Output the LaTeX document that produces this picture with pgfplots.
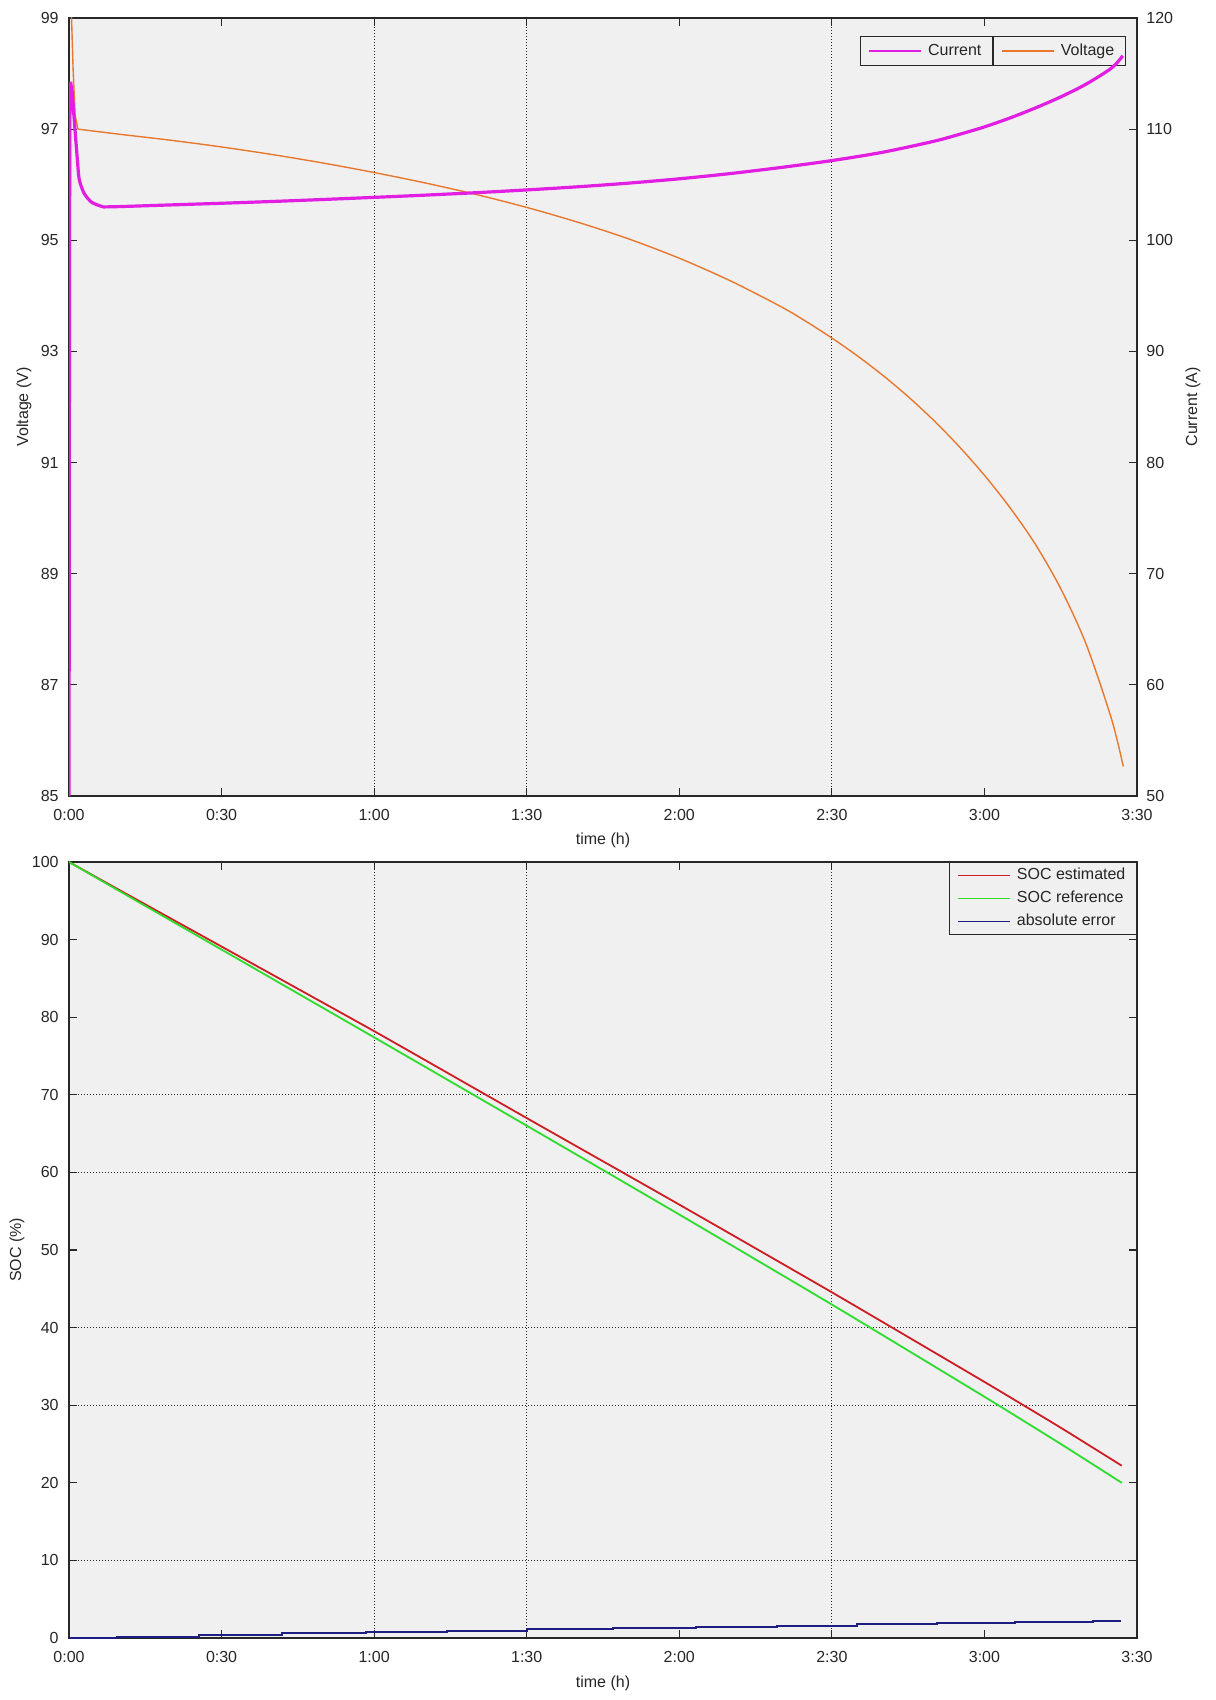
\documentclass[border=0pt]{standalone}
\usepackage{pgfplots}
\pgfplotsset{compat=1.18}
\usepackage{fontspec}
\setmainfont{Liberation Sans}
\definecolor{bg}{HTML}{F0F0F0}
\definecolor{curc}{RGB}{225,30,225}
\definecolor{volc}{RGB}{232,120,45}
\definecolor{socest}{RGB}{205,30,35}
\definecolor{socref}{RGB}{45,220,45}
\definecolor{errc}{RGB}{30,30,130}
\definecolor{axc}{RGB}{40,40,40}

\pgfplotstableread{
t V
0 99.6
0.4 99.3
0.8 98.1
1.2 97.25
1.75 97.0
}\voltspike

\pgfplotstableread{
t V
1.75 97.0
10 96.907
20 96.80
30 96.679
40 96.542
50 96.389
60 96.219
70 96.032
80 95.825
90 95.591
100 95.326
110 95.026
120 94.677
130 94.272
140 93.805
145 93.535
150 93.241
155 92.921
160 92.571
165 92.186
170 91.761
175 91.291
180 90.771
185 90.191
190 89.531
195 88.731
200 87.731
205 86.381
207.3 85.531
}\voltdata

\pgfplotstableread{
t I
0 45
0.15 109
0.5 113.7
1.0 111
1.5 108.1
2.0 105.5
3.0 104.2
4.5 103.4
6.7 103.0
}\curspike

\pgfplotstableread{
t I
6.7 103.0
10 103.03
20 103.18
30 103.33
40 103.49
50 103.67
60 103.86
70 104.06
80 104.28
90 104.53
100 104.81
110 105.14
120 105.53
130 106.0
140 106.55
150 107.17
160 107.92
170 108.9
175 109.52
180 110.2
185 111.0
190 111.9
195 112.9
200 114.05
205 115.5
207.2 116.6
}\curdata

\pgfplotstableread{
t S
0 100
10 96.35
30 89.1
60 78.2
90 67.0
120 55.85
150 44.55
180 33.0
195 27.1
207 22.2
}\socest

\pgfplotstableread{
t S
0 100
10 96.22
30 88.71
60 77.40
90 66.02
120 54.57
150 42.97
180 31.09
195 25.01
207 20.0
}\socref

\pgfplotstableread{
t E
0 0
9.4 0.12
25.5 0.36
41.9 0.58
58.3 0.76
74.4 0.95
90 1.1
107 1.27
123.2 1.44
139.2 1.6
154.9 1.75
170.6 1.92
186 2.07
201.3 2.22
206.9 2.22
}\errdata

\begin{document}
\begin{tikzpicture}
\useasboundingbox (0,0) rectangle (607.5pt,850pt);
\pgfplotsset{
  mystyle/.style={
    scale only axis, width=534pt,
    xmin=0, xmax=210, xtick={0,30,...,210},
    xticklabels={0:00,0:30,1:00,1:30,2:00,2:30,3:00,3:30},
    tick align=inside, major tick length=4pt,
    tick style={axc, line width=0.6pt},
    axis line style={axc, line width=0.8pt},
    font=\fontsize{8}{9.6}\selectfont,
    /pgf/number format/assume math mode=true,
    xticklabel style={anchor=center, yshift=-9.5pt, inner sep=0pt, text=black!85},
    yticklabel style={text=black!85},
    label style={text=black!85},
    major grid style={black!85, dash pattern=on 0.6pt off 0.9pt, line width=0.5pt},
    legend image code/.code={\draw[##1, line width=0.6pt] (0pt,0pt) -- (26pt,0pt);},
    legend style={draw=axc, line width=0.6pt, fill=bg, font=\fontsize{8}{9.6}\selectfont,
      inner xsep=4pt, inner ysep=1.5pt,
      nodes={inner xsep=1.5pt, inner ysep=1.85pt, text height=6pt, text depth=1.8pt, text=black!85},
      /tikz/every odd column/.append style={column sep=1.5pt}},
    legend cell align=left,
  }
}
% ---------- top: voltage (left axis)
\begin{axis}[mystyle, at={(34.5pt,452pt)}, anchor=south west, height=389pt,
  ymin=85, ymax=99, ytick={85,87,...,99}, ytick pos=left, xtick pos=both,
  yticklabel style={anchor=east, inner sep=0pt, xshift=-5pt},
  axis background/.style={fill=bg},
  extra x ticks={60,90,150}, extra x tick labels={},
  extra x tick style={grid=major, major tick length=0pt},
  xlabel={time (h)}, xlabel style={at={([yshift=-22pt]axis description cs:0.5,0)}, anchor=center},
  ylabel={Voltage (V)}, ylabel style={at={([xshift=-22.5pt]axis description cs:0,0.5)}, anchor=center},
  legend style={at={(axis description cs:0.8652,0.9769)}, anchor=north west},
]
\addplot[volc, line width=0.7pt, forget plot] table[x=t,y=V] {\voltspike};
\addplot[volc, line width=0.7pt, smooth, tension=0.5] table[x=t,y=V] {\voltdata};
\addlegendentry{Voltage}
\end{axis}
% ---------- top: current (right axis)
\begin{axis}[mystyle, at={(34.5pt,452pt)}, anchor=south west, height=389pt,
  ymin=50, ymax=120, ytick={50,60,...,120},
  axis x line=none, axis y line*=right, ytick pos=right,
  yticklabel style={anchor=west, inner sep=0pt, xshift=4.5pt},
  ylabel={Current (A)}, ylabel style={at={([xshift=28pt]axis description cs:1,0.5)}, anchor=center},
  legend style={at={(axis description cs:0.8652,0.9769)}, anchor=north east},
]
\addplot[curc, line width=1.6pt, forget plot, smooth, tension=0.4] table[x=t,y=I] {\curspike};
\addplot[curc, line width=1.6pt, smooth, tension=0.5] table[x=t,y=I] {\curdata};
\addlegendentry{Current}
\end{axis}
% ---------- bottom: SOC
\begin{axis}[mystyle, at={(34.5pt,31pt)}, anchor=south west, height=388pt,
  ymin=0, ymax=100, ytick={0,10,...,100}, xtick pos=both, ytick pos=both,
  yticklabel style={anchor=east, inner sep=0pt, xshift=-5pt},
  axis background/.style={fill=bg},
  extra x ticks={60,90,150}, extra x tick labels={},
  extra x tick style={grid=major, major tick length=0pt},
  extra y ticks={10,30,40,60,70}, extra y tick labels={},
  extra y tick style={grid=major, major tick length=0pt},
  xlabel={time (h)}, xlabel style={at={([yshift=-22.5pt]axis description cs:0.5,0)}, anchor=center},
  ylabel={SOC (\%)}, ylabel style={at={([xshift=-26pt]axis description cs:0,0.5)}, anchor=center},
  legend style={at={(axis description cs:1,1)}, anchor=north east, inner ysep=0.75pt},
]
\addplot[socest, line width=0.9pt, smooth, tension=0.3] table[x=t,y=S] {\socest};
\addlegendentry{SOC estimated}
\addplot[socref, line width=0.9pt, smooth, tension=0.3] table[x=t,y=S] {\socref};
\addlegendentry{SOC reference}
\addplot[errc, line width=1pt, const plot] table[x=t,y=E] {\errdata};
\addlegendentry{absolute error}
\end{axis}
\end{tikzpicture}
\end{document}
